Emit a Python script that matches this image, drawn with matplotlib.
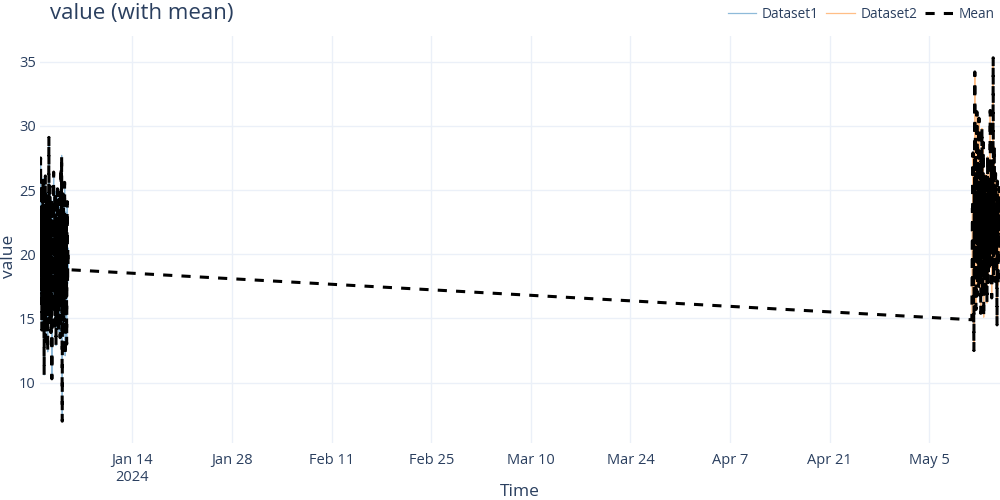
import matplotlib
matplotlib.use("Agg")
import matplotlib.pyplot as plt
import pandas as pd

# hourly readings, two separate periods
D1_START = "2024-01-01 00:00"
D2_START = "2024-05-11 00:00"

dataset1 = [
    21.3, 18.4, 27.5, 16.2, 22.8, 19.5, 14.1, 24.6, 20.2, 17.3,
    25.9, 15.8, 21.7, 18.9, 10.6, 23.4, 19.8, 16.5, 26.1, 13.2,
    20.7, 22.9, 17.6, 24.8, 15.3, 19.1, 12.4, 23.7, 18.2, 21.5,
    29.1, 16.9, 20.4, 14.7, 25.3, 18.6, 22.1, 13.9, 19.7, 24.2,
    10.3, 21.8, 17.1, 23.5, 15.6, 20.9, 26.4, 16.3, 19.2, 22.6,
    14.4, 24.9, 18.1, 21.2, 12.9, 20.3, 23.8, 17.4, 19.9, 25.1,
    15.2, 22.4, 18.7, 14.0, 21.6, 24.3, 16.8, 20.1, 13.5, 23.1,
    19.4, 26.8, 17.9, 27.7, 15.9, 7.0, 22.2, 18.3, 24.7, 20.6,
    14.8, 21.9, 17.2, 25.6, 19.3, 12.1, 23.3, 16.6, 20.8, 22.7,
    13.0, 21.4, 24.1, 17.7, 20.5, 18.8,
]

dataset2 = [
    14.9, 19.8, 23.6, 17.2, 27.9, 20.4, 16.1, 12.5, 25.3, 21.7,
    34.2, 18.6, 29.4, 22.8, 15.7, 26.5, 19.3, 31.1, 23.9, 16.8,
    28.2, 20.9, 24.7, 17.5, 30.6, 22.1, 18.4, 26.9, 21.3, 25.8,
    15.4, 27.3, 23.2, 19.6, 29.8, 20.2, 24.4, 16.9, 22.6, 28.7,
    15.1, 21.8, 25.6, 18.1, 23.7, 19.4, 26.2, 17.3, 22.9, 20.7,
    24.8, 16.2, 21.5, 27.6, 19.1, 23.4, 17.8, 25.1, 20.3, 22.2,
    18.9, 26.7, 31.2, 21.1, 24.3, 19.7, 27.1, 16.6, 23.1, 20.6,
    25.4, 22.4, 35.3, 18.3, 24.9, 21.4, 28.4, 17.9, 23.8, 20.1,
    26.3, 19.2, 24.1, 22.7, 18.7, 14.5, 25.7, 21.6, 23.5, 17.6,
    24.6, 20.8, 25.2, 22.3, 19.5, 23.3,
]

TEXT = "#2a3f5f"
GRID = "#ebf0f8"

plt.rcParams["font.family"] = ["Open Sans", "DejaVu Sans"]

t1 = pd.date_range(D1_START, periods=len(dataset1), freq="h")
t2 = pd.date_range(D2_START, periods=len(dataset2), freq="h")
df = pd.concat([
    pd.DataFrame({"time": t1, "value": dataset1}),
    pd.DataFrame({"time": t2, "value": dataset2}),
])
mean = df.groupby("time")["value"].mean()

fig = plt.figure(figsize=(10, 5), dpi=100)
ax = fig.add_axes([0.04, 0.114, 0.96, 0.814])

ax.plot(t1, dataset1, color="#1f77b4", alpha=0.5, lw=0.9, label="Dataset1")
ax.plot(t2, dataset2, color="#ff7f0e", alpha=0.5, lw=0.9, label="Dataset2")
ax.plot(mean.index, mean.values, color="black", lw=2.2, ls=(0, (3, 3)),
        label="Mean")

ax.set_xlim(mean.index.min(), mean.index.max())
lo, hi = mean.min(), mean.max()
pad = 0.06 * (hi - lo)
ax.set_ylim(lo - pad, hi + pad)

ticks = pd.date_range("2024-01-14", "2024-05-15", freq="14D")
ax.set_xticks(ticks)
ax.set_xticklabels([t.strftime("%b %-d") + ("\n2024" if i == 0 else "")
                    for i, t in enumerate(ticks)])
ax.set_yticks([10, 15, 20, 25, 30, 35])

for s in ax.spines.values():
    s.set_visible(False)
ax.grid(True, color=GRID, lw=1)
ax.set_axisbelow(True)
ax.tick_params(length=0, labelsize=10.5, colors=TEXT)
ax.tick_params(axis="x", pad=7)
ax.tick_params(axis="y", pad=3)

fig.text(0.52, 0.016, "Time", fontsize=12.5, color=TEXT, ha="center",
         va="center")
fig.text(0.009, 0.488, "value", fontsize=12.5, color=TEXT, ha="center",
         va="center", rotation=90)
fig.text(0.05, 0.972, "value (with mean)", fontsize=16, color=TEXT,
         va="center", ha="left")
leg = fig.legend(loc="center right", bbox_to_anchor=(1.0, 0.972), ncol=3,
                 frameon=False, fontsize=9.8, handlelength=2.1,
                 columnspacing=0.55, handletextpad=0.4, borderaxespad=0)
for txt in leg.get_texts():
    txt.set_color(TEXT)

fig.savefig("out.png", dpi=100)
